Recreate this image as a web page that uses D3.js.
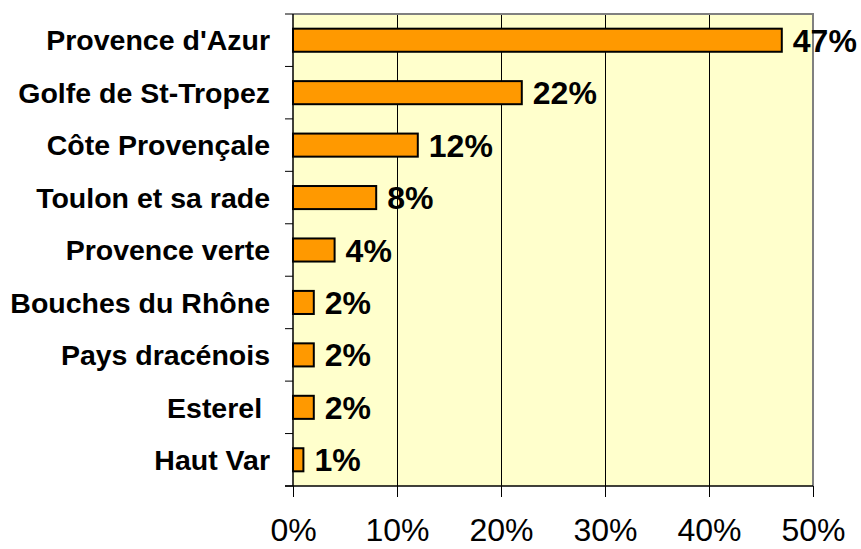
<!DOCTYPE html>
<html lang="fr">
<head>
    <meta charset="UTF-8">
    <title>Répartition par territoire</title>
    <style>
        body {
            margin: 0;
            background: #fff;
            font-family: Arial, "Liberation Sans", sans-serif;
        }
        .cat-label {
            white-space: pre;
        }
    </style>
</head>
<body>
<div id="chart"></div>

<script src="https://d3js.org/d3.v7.min.js"></script>
<script>
    // data
    const categories = ["Provence d'Azur", "Golfe de St-Tropez", "Côte Provençale", "Toulon et sa rade",
        "Provence verte", "Bouches du Rhône", "Pays dracénois", "Esterel ", "Haut Var"];
    const values = [47, 22, 12, 8, 4, 2, 2, 2, 1];
    const valueLabels = ["47%", "22%", "12%", "8%", "4%", "2%", "2%", "2%", "1%"];
    const xTicks = [0, 10, 20, 30, 40, 50];

    const width = 861;
    const height = 549;
    const plot = { left: 293, right: 813, top: 14, bottom: 486 };

    const svg = d3.select("#chart")
        .append("svg")
        .attr("width", width)
        .attr("height", height);

    const x = d3.scaleLinear().domain([0, 50]).range([plot.left, plot.right]);
    const y = d3.scaleBand().domain(categories).range([plot.top, plot.bottom]).paddingInner(0.56).paddingOuter(0.28);
    const band = d3.scaleBand().domain(categories).range([plot.top, plot.bottom]);

    // plot background
    svg.append("rect")
        .attr("x", plot.left)
        .attr("y", plot.top)
        .attr("width", plot.right - plot.left)
        .attr("height", plot.bottom - plot.top)
        .attr("fill", "#FFFFCC");

    // vertical gridlines
    svg.append("g")
        .selectAll("line")
        .data(xTicks.slice(1, -1))
        .enter()
        .append("line")
        .attr("x1", d => x(d) + 0.5)
        .attr("x2", d => x(d) + 0.5)
        .attr("y1", plot.top)
        .attr("y2", plot.bottom)
        .attr("stroke", "#000")
        .attr("stroke-width", 1);

    // gray frame on top and right
    svg.append("path")
        .attr("d", `M${plot.left},${plot.top}H${plot.right}V${plot.bottom}`)
        .attr("fill", "none")
        .attr("stroke", "#808080")
        .attr("stroke-width", 2);

    // bars
    svg.append("g")
        .selectAll("rect")
        .data(values)
        .enter()
        .append("rect")
        .attr("x", x(0))
        .attr("y", (d, i) => y(categories[i]))
        .attr("width", d => x(d) - x(0))
        .attr("height", y.bandwidth())
        .attr("fill", "#FF9900")
        .attr("stroke", "#000")
        .attr("stroke-width", 2);

    // value labels
    svg.append("g")
        .selectAll("text")
        .data(values)
        .enter()
        .append("text")
        .attr("x", d => x(d) + 11)
        .attr("y", (d, i) => y(categories[i]) + y.bandwidth() / 2)
        .attr("dy", "0.36em")
        .attr("font-size", 32)
        .attr("font-weight", "bold")
        .attr("fill", "#000")
        .text((d, i) => valueLabels[i]);

    // category axis
    svg.append("line")
        .attr("x1", plot.left)
        .attr("x2", plot.left)
        .attr("y1", plot.top)
        .attr("y2", plot.bottom)
        .attr("stroke", "#000")
        .attr("stroke-width", 1.5);

    const catTicks = categories.map(c => band(c)).concat([plot.bottom]);
    svg.append("g")
        .selectAll("line")
        .data(catTicks)
        .enter()
        .append("line")
        .attr("x1", plot.left - 8)
        .attr("x2", plot.left)
        .attr("y1", d => d)
        .attr("y2", d => d)
        .attr("stroke", "#000")
        .attr("stroke-width", 1);

    svg.append("g")
        .selectAll("text")
        .data(categories)
        .enter()
        .append("text")
        .attr("class", "cat-label")
        .attr("x", 270)
        .attr("y", d => band(d) + band.bandwidth() / 2)
        .attr("dy", "0.36em")
        .attr("text-anchor", "end")
        .attr("font-size", 28.5)
        .attr("font-weight", "bold")
        .attr("fill", "#000")
        .text(d => d);

    // value axis
    const xAxis = d3.axisBottom(x)
        .tickValues(xTicks)
        .tickFormat(d => d + "%")
        .tickSize(11)
        .tickPadding(21);

    const gx = svg.append("g")
        .attr("transform", `translate(0,${plot.bottom})`)
        .call(xAxis);
    gx.select(".domain")
        .attr("stroke-width", 1.5)
        .attr("d", `M${plot.left - 8},0H${plot.right}`);
    gx.selectAll("text")
        .attr("font-size", 32)
        .attr("font-family", "Arial, 'Liberation Sans', sans-serif")
        .attr("fill", "#000");
</script>
</body>
</html>
